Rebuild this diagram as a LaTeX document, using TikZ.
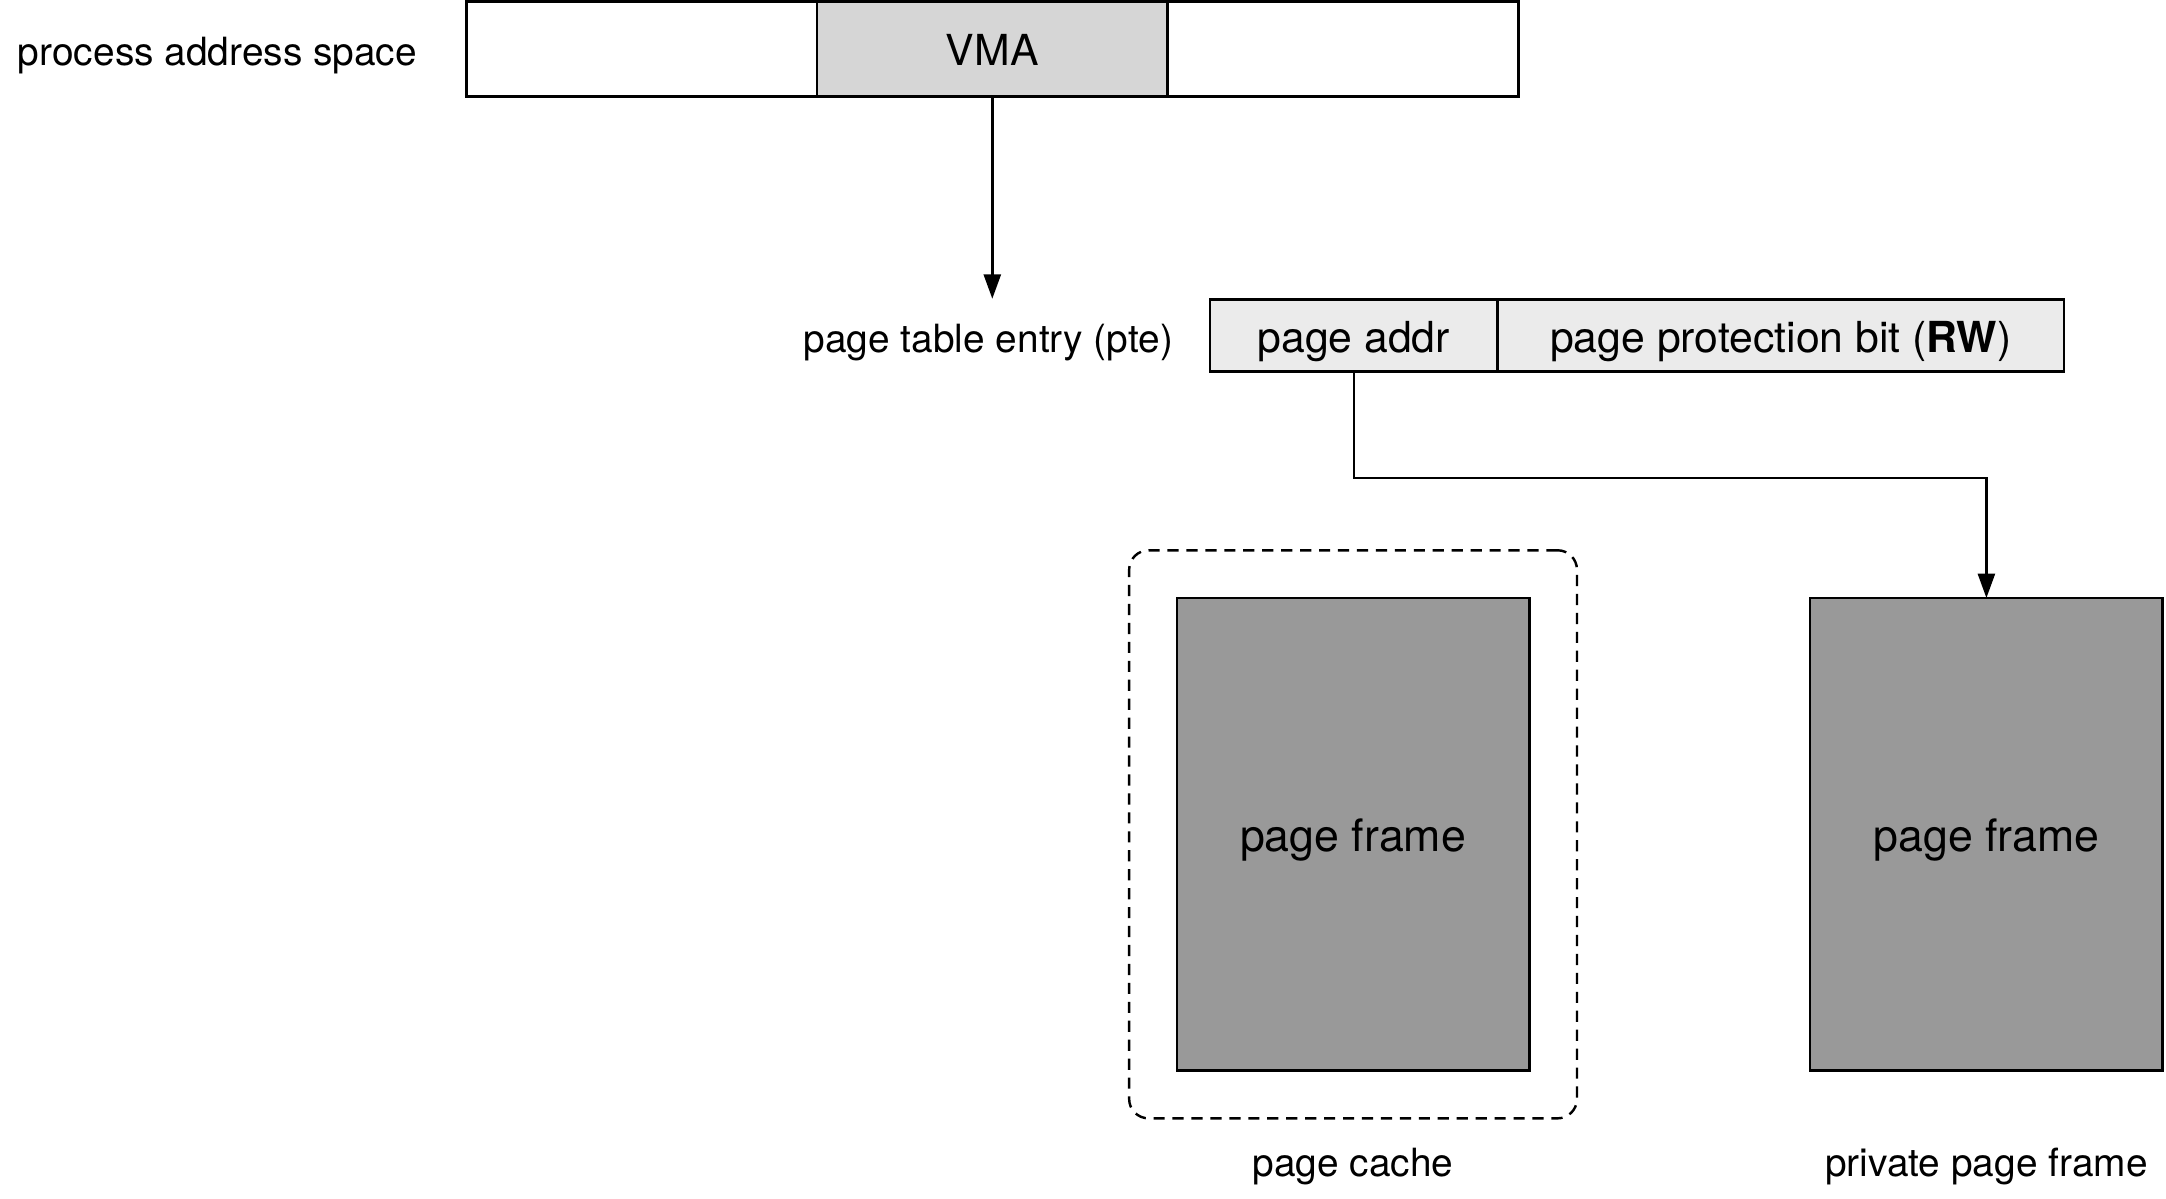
\documentclass[tikz,border=0pt]{standalone}
\usepackage{fontspec}
\setmainfont{TeX Gyre Heros}
\usetikzlibrary{arrows.meta, positioning, fit, calc}
\definecolor{vmagray}{HTML}{D6D6D6}
\definecolor{ptegray}{HTML}{EBEBEB}
\definecolor{framegray}{HTML}{999999}
\tikzset{
  cell/.style={
    rectangle, draw=black, line width=0.5pt, minimum height=6.9mm, inner sep=0pt, outer sep=0pt,
    text height=0.76em, text depth=0.07em, align=center, font=\fontsize{8.8}{10}\selectfont
  },
  seg/.style={cell, minimum width=25.37mm, fill=white},
  vmacell/.style={seg, fill=vmagray},
  ptecell/.style={cell, minimum height=5.2mm, fill=ptegray},
  pageframe/.style={cell, minimum width=25.5mm, minimum height=34.2mm, fill=framegray, font=\fontsize{9.2}{11}\selectfont},
  edge/.style={-{Triangle[length=5pt,width=3.5pt]}, line width=0.5pt},
  lbl/.style={inner sep=0pt, text height=0.76em, text depth=0.07em, font=\fontsize{8}{10}\selectfont}
}

\begin{document}
\begin{tikzpicture}[
    x=0.01cm, y=-0.01cm,
    cachebox/.style={draw=black, line width=0.5pt, dash pattern=on 2.3pt off 1.6pt, rounded corners=4pt, inner sep=3.45mm}
    ]
    \useasboundingbox (0,0) rectangle (1568,868);
    
    % process address space
    \node[seg] (segL) at (464.5,35.5) {};
    \node[vmacell, right=0pt of segL] (vma) {VMA};
    \node[seg, right=0pt of vma] (segR) {};
    \node[lbl, left=3.5mm of segL] (pasLbl) {process address space};
    
    % page table entry
    \node[ptecell, minimum width=20.8mm] (addr) at (980,243) {page addr};
    \node[ptecell, minimum width=41mm, right=0pt of addr] (prot) {page protection bit (\textbf{RW})};
    \node[lbl, minimum height=5.2mm, left=2.6mm of addr] (pteLbl) {page table entry (pte)};
    
    % page frames
    \node[pageframe] (cacheFrame) at (979.5,604) {page frame};
    \node[pageframe] (privFrame) at (1438,604) {page frame};
    \node[cachebox, fit=(cacheFrame)] (cacheBox) {};
    \node[lbl, below=1.4mm of cacheBox] (cacheLbl) {page cache};
    \node[lbl] (privLbl) at (privFrame |- cacheLbl) {private page frame};
    
    \draw[edge] (vma.south) -- (vma.south |- pteLbl.north);
    \draw[edge] (addr.south) -- ++(0,77) -| (privFrame.north);
    
\end{tikzpicture}
\end{document}
